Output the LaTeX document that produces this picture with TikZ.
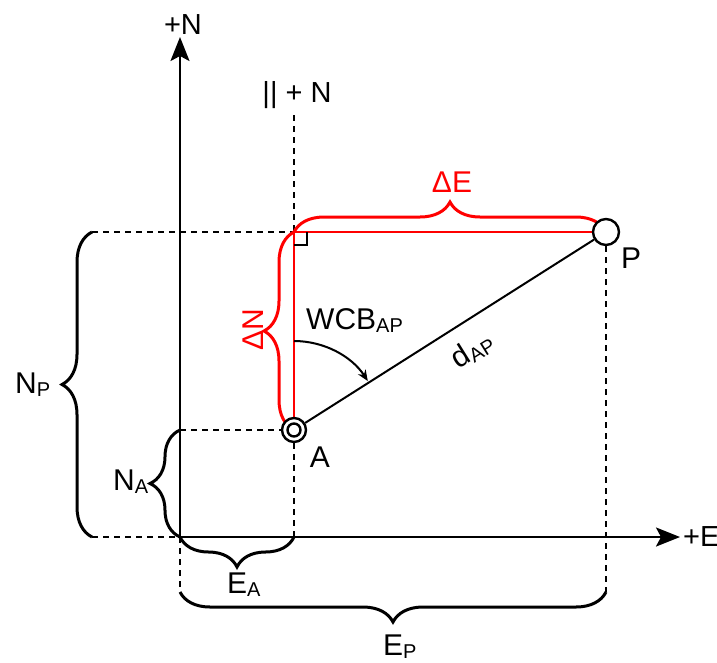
\documentclass[tikz,border=0pt]{standalone}
\usepackage{fontspec}
\setmainfont{Liberation Sans}
\usetikzlibrary{arrows.meta,decorations.pathreplacing,backgrounds}
\newcommand\fsz[1]{\fontsize{#1}{#1}\selectfont}
\newcommand\subs[1]{\raisebox{-3.5pt}{\fontsize{20}{20}\selectfont #1}}
\begin{document}
\begin{tikzpicture}[x=1pt,y=-1pt,
  txt/.style={inner sep=0pt, font=\fsz{30}},
  dline/.style={dash pattern=on 6pt off 5pt, line width=2.4pt},
  axis/.style={line width=2.4pt, -{Stealth[length=24pt,width=19pt,inset=5pt]}},
  brc/.style={decorate, decoration={brace, amplitude=30pt}, line width=3pt},
  rline/.style={red, line width=2pt},
  pt/.style={circle, draw, fill=white, line width=2.4pt, inner sep=0pt}]
\useasboundingbox (0,0) rectangle (717,662);
% points
\node[pt, minimum size=26pt] (P) at (606,232) {};
\node[pt, minimum size=24pt] (A) at (294,430) {};
\node[circle, draw, line width=2.4pt, minimum size=13pt, inner sep=0pt] (Ai) at (A) {};
% coordinates
\coordinate (O) at (180,537);
\coordinate (Ntip) at (180,37);
\coordinate (Etip) at (680,537);
\coordinate (C) at (294,232);
\coordinate (PNtop) at (294,115);
\coordinate (EAr) at (294,537);
\coordinate (NPt) at (92,232);
\coordinate (NPb) at (92,537);
\coordinate (NAt) at (180,430);
\coordinate (EPl) at (180,592);
\coordinate (EPr) at (606,592);
\coordinate (Rq1) at (307,232);
\coordinate (Rq2) at (307,245);
\coordinate (Rq3) at (294,245);
\coordinate (W0) at (294,341);
\begin{scope}[on background layer]
% dashed construction lines
\draw[dline] (PNtop) -- (A.north);
\draw[dline] (A.south) -- (EAr);
\draw[dline] (P.south) -- (EPr);
\draw[dline] (NPt) -- (C);
\draw[dline] (NAt) -- (A.west);
\draw[dline] (NPb) -- (O);
\draw[dline] (O) -- (EPl);
% axes
\draw[axis] (O) -- (Ntip);
\draw[axis] (O) -- (Etip);
% red lines
\draw[rline] (C) -- (P.west);
\draw[rline] (C) -- (A.north);
% right angle
\draw[line width=1.8pt] (Rq1) -- (Rq2) -- (Rq3);
% line A-P
\draw[line width=2pt] (A) -- (P);
% WCB arc
\draw[line width=2pt, -{Stealth[length=11pt,width=9pt]}] (W0) arc[start angle=-90, end angle=-33, radius=88];
% braces
\draw[brc] (NPb) -- (NPt);
\draw[brc] (O) -- (NAt);
\draw[brc] (EAr) -- (O);
\draw[brc] (EPr) -- (EPl);
\draw[brc, red] (C) -- (P.center);
\draw[brc, red] (A.center) -- (C);
\end{scope}
% labels
\node[txt, font=\fsz{29}] (lN) at (183,25) {+N};
\node[txt, font=\fsz{29}] (lpN) at (297,95) {|| + N};
\node[txt, font=\fsz{29}, anchor=west] (lE) at (683,537) {+E};
\node[txt, red] (lDE) at (452,182) {ΔE};
\node[txt, red, rotate=90] (lDN) at (253,330) {ΔN};
\node[txt, anchor=base west] (lW) at (306,329) {WCB\subs{AP}};
\node[txt, rotate=32] (ld) at (472,350) {d\subs{AP}};
\node[txt] (lA) at (320,457) {A};
\node[txt] (lP) at (631,258) {P};
\node[txt, anchor=base west] (lNP) at (15,393) {N\subs{P}};
\node[txt, anchor=base west] (lNA) at (113,490) {N\subs{A}};
\node[txt, anchor=base west] (lEA) at (227,593) {E\subs{A}};
\node[txt, anchor=base west] (lEP) at (383,655) {E\subs{P}};
\end{tikzpicture}
\end{document}
